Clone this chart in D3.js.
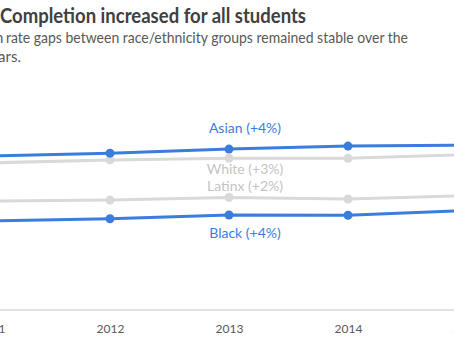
<!DOCTYPE html>
<html>
<head>
<meta charset="utf-8">
<script src="https://cdn.jsdelivr.net/npm/d3@7"></script>
<style>
  body { margin: 0; background: #fff; }
  svg { display: block; font-family: Lato, "Open Sans", sans-serif; }
</style>
</head>
<body>
<svg id="chart" width="454" height="341"></svg>
<script>
// data (completion rate, %)
const years = ["2011", "2012", "2013", "2014", "2015"];
const asian = [57.1, 58.1, 59.6, 60.7, 61.1];
const white = [54.5, 55.6, 56.2, 56.2, 57.6];
const latinx = [40.3, 40.7, 41.7, 41.1, 42.4];
const black = [33.0, 33.8, 35.2, 35.1, 36.9];
const seriesNames = ["White", "Latinx", "Asian", "Black"];
const seriesLabels = ["White (+3%)", "Latinx (+2%)", "Asian (+4%)", "Black (+4%)"];

const blue = "#3b7ddd";
const grey = "#d9d9d9";

const svg = d3.select("#chart");

// the chart is cropped: first and last year sit just outside the frame
const x = d3.scalePoint()
    .domain(years)
    .range([-9, 467]);

const y = d3.scaleLinear()
    .domain([0, 100])
    .range([310, 40]);

// title + subtitle (textLength to match the original Calibri widths)
svg.append("text")
    .attr("x", 0)
    .attr("y", 23)
    .attr("font-size", "20px")
    .attr("font-weight", "bold")
    .attr("fill", "#404040")
    .attr("textLength", 306)
    .attr("lengthAdjust", "spacingAndGlyphs")
    .text("Completion increased for all students");

svg.append("text")
    .attr("x", 3.5)
    .attr("y", 43)
    .attr("text-anchor", "end")
    .attr("font-size", "15px")
    .attr("fill", "#595959")
    .text("Completion");

svg.append("text")
    .attr("x", 6)
    .attr("y", 43)
    .attr("font-size", "15px")
    .attr("fill", "#595959")
    .attr("textLength", 402)
    .attr("lengthAdjust", "spacingAndGlyphs")
    .text("rate gaps between race/ethnicity groups remained stable over the");

svg.append("text")
    .attr("x", 21)
    .attr("y", 62)
    .attr("text-anchor", "end")
    .attr("font-size", "15px")
    .attr("fill", "#595959")
    .text("past five years.");

// x axis
const xAxis = svg.append("g")
    .attr("transform", "translate(0," + y(0) + ")")
    .call(d3.axisBottom(x).tickSize(0).tickPadding(14));

xAxis.select(".domain")
    .attr("d", "M0,0H454")
    .attr("stroke", grey)
    .attr("stroke-width", 1.5);

xAxis.selectAll("text")
    .attr("font-family", "Lato, 'Open Sans', sans-serif")
    .attr("font-size", "12px")
    .attr("fill", "#595959");

// lines, grey first so the blue ones sit on top
const allSeries = [white, latinx, asian, black];
const colors = [grey, grey, blue, blue];
const labelColors = ["#c4c4c4", "#c4c4c4", blue, blue];
const labelDy = [16, -6, -16, 23];

const line = d3.line()
    .x((d, i) => x(years[i]))
    .y(d => y(d));

allSeries.forEach(function (vals, k) {
    const g = svg.append("g").attr("class", "series-" + seriesNames[k]);

    g.append("path")
        .datum(vals)
        .attr("fill", "none")
        .attr("stroke", colors[k])
        .attr("stroke-width", 3)
        .attr("d", line);

    g.selectAll("circle")
        .data(vals)
        .enter()
        .append("circle")
        .attr("cx", (d, i) => x(years[i]))
        .attr("cy", d => y(d))
        .attr("r", 4.5)
        .attr("fill", colors[k]);

    // label sits near the 2013 point
    g.append("text")
        .attr("x", x("2013") + 16)
        .attr("y", y(vals[2]) + labelDy[k])
        .attr("text-anchor", "middle")
        .attr("font-size", "14px")
        .attr("fill", labelColors[k])
        .text(seriesLabels[k]);
});
</script>
</body>
</html>
